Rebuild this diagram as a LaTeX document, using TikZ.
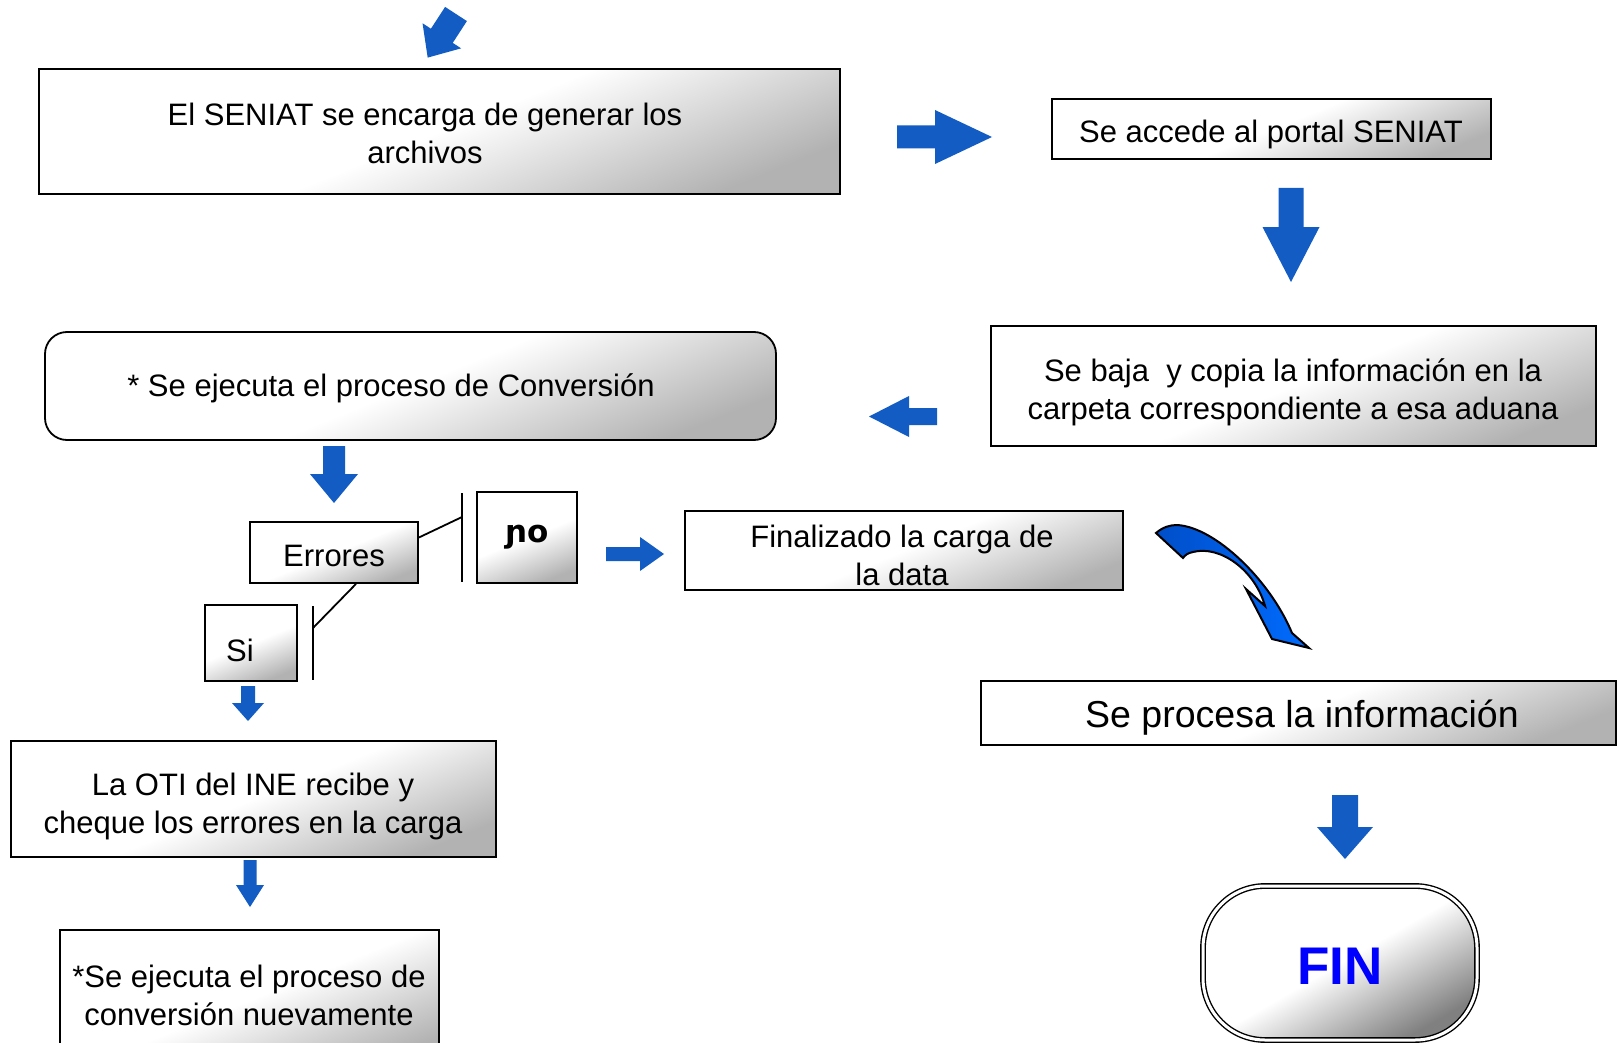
\documentclass[tikz,border=0pt]{standalone}
\usepackage{fontspec}
\setmainfont{Liberation Sans}
\newfontfamily\dejavu{DejaVu Sans}
\usetikzlibrary{calc}
\definecolor{arrowblue}{RGB}{18,92,196}
\definecolor{curvedark}{RGB}{0,78,200}
\definecolor{curvelight}{RGB}{0,108,255}
\definecolor{finblue}{RGB}{0,0,255}
\newcommand\barrow[7]{%
  \fill[arrowblue,shift={(#1,#2)},rotate=#3] (0,-#5) -- ({#4-#7},-#5) -- ({#4-#7},-#6) -- (#4,0) -- ({#4-#7},#6) -- ({#4-#7},#5) -- (0,#5) -- cycle;}
\tikzset{
  txt/.style={font=\fontsize{31}{38}\selectfont, align=center, inner sep=0pt},
  box/.style={draw, line width=1.8pt, top color=white, bottom color=black!30, middle color=white, shading angle=22, inner sep=0pt},
  conn/.style={line width=1.8pt},
}
\begin{document}
\begin{tikzpicture}[x=1pt,y=-1pt]
\useasboundingbox (0,0) rectangle (1619,1043);
\fill[white] (0,0) rectangle (1619,1043);

% boxes
\node[box, minimum width=801pt, minimum height=125pt] (b1) at (439.5,131.5) {};
\node[txt] (b1t) at (425,133) {El SENIAT se encarga de generar los\\archivos};

\node[box, minimum width=439pt, minimum height=60pt] (b2) at (1271.5,129) {};
\node[txt] (b2t) at (1271,134) {Se accede al portal SENIAT};

\node[box, minimum width=605pt, minimum height=120pt] (b3) at (1293.5,386) {};
\node[txt] (b3t) at (1293,392) {Se baja\ \ y copia la información en la\\carpeta correspondiente a esa aduana};

\node[box, rounded corners=22pt, minimum width=731pt, minimum height=108pt] (b4) at (410.5,386) {};
\node[txt] (b4t) at (391,388) {* Se ejecuta el proceso de Conversión};

\node[box, minimum width=168pt, minimum height=61pt] (err) at (334,552.5) {};
\node[txt] (errt) at (334,556) {Errores};

\node[box, minimum width=100pt, minimum height=91pt] (no) at (527,537.5) {};
\node[inner sep=0pt, font=\dejavu\bfseries\fontsize{31}{36}\selectfont] (not) at (527,537) {ɲo};

\node[box, minimum width=92pt, minimum height=76pt] (si) at (251,643) {};
\node[txt] (sit) at (240,650) {Si};

\node[box, minimum width=438pt, minimum height=79pt] (fin1) at (904,550.5) {};
\node[txt] (fin1t) at (902,555) {Finalizado la carga de\\la data};

\node[box, minimum width=635pt, minimum height=64pt] (proc) at (1298.5,713) {};
\node[txt, font=\fontsize{37.5}{44}\selectfont] (proct) at (1302,718) {Se procesa la información};

\node[box, minimum width=485pt, minimum height=116pt] (oti) at (253.5,799) {};
\node[txt] (otit) at (253,806) {La OTI del INE recibe y\\cheque los errores en la carga};

\node[box, minimum width=379pt, minimum height=140pt] (conv) at (249.5,1000) {};
\node[txt] (convt) at (249,995) {*Se ejecuta el proceso de\\conversión nuevamente};

\node[draw, line width=1.4pt, double, double distance=3pt, rounded corners=62pt,
      top color=white, bottom color=black!50, middle color=white, shading angle=30,
      minimum width=274pt, minimum height=154pt] (fin) at (1340,963) {};
\node[inner sep=0pt, text=finblue, font=\bfseries\fontsize{53}{60}\selectfont] (fint) at (1340,966) {FIN};

% decision lines
\coordinate (nbarT) at (462,493);
\coordinate (nbarB) at (462,582);
\coordinate (nbarJ) at (462,517);
\draw[conn] (nbarT) -- (nbarB);
\draw[conn] ([yshift=15pt]err.east) -- (nbarJ);
\coordinate (sbarT) at (313,606);
\coordinate (sbarB) at (313,680);
\coordinate (sbarJ) at (313,628);
\draw[conn] (sbarT) -- (sbarB);
\draw[conn] ([xshift=22pt]err.south) -- (sbarJ);

% block arrows: x y angle length shafthalf headhalf headlength
\barrow{456}{14}{-123}{52}{13}{23}{26}
\barrow{897}{137}{0}{95}{11.5}{27}{57}
\barrow{1291}{188}{-90}{94}{12.5}{28.5}{55}
\barrow{937}{416.5}{180}{68}{8.5}{20.5}{40}
\barrow{334}{446}{-90}{57}{11}{24}{29}
\barrow{606}{554}{0}{58}{7}{17}{24}
\barrow{248}{686}{-90}{35}{7}{16}{18}
\barrow{250}{860}{-90}{47}{6.5}{14}{22}
\barrow{1345}{795}{-90}{64}{13}{28}{32}

% curved arrow
\draw[line width=2pt, left color=curvedark, right color=curvelight]
  (1156,533) .. controls (1163,527) and (1170,525) .. (1177,525)
  .. controls (1215,527) and (1270,580) .. (1292,633)
  -- (1309,648) -- (1272,639) -- (1246,589) -- (1265,606)
  .. controls (1255,570) and (1220,545) .. (1193,552)
  .. controls (1188,553) and (1185,555) .. (1183,558) -- cycle;
\end{tikzpicture}
\end{document}
